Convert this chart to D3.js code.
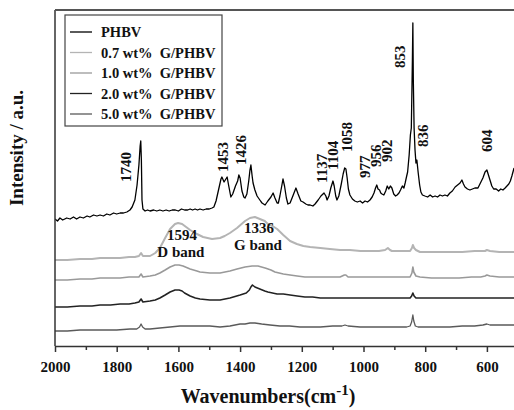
<!DOCTYPE html>
<html>
<head>
<meta charset="utf-8">
<script src="https://cdn.jsdelivr.net/npm/d3@7/dist/d3.min.js"></script>
<style>
  html, body { margin: 0; padding: 0; background: #fff; }
  svg { display: block; }
  text { font-family: "Liberation Serif", serif; font-weight: bold; fill: #111; }
</style>
</head>
<body>
<div id="chart"></div>
<script>
// ---------- data (wavenumber cm-1, intensity a.u.) ----------
const seriesNames = ["PHBV", "0.7 wt%  G/PHBV", "1.0 wt%  G/PHBV", "2.0 wt%  G/PHBV", "5.0 wt%  G/PHBV"];

const phbv = [
  [2000,127],[1992,125],[1984,128],[1975,126],[1962,128],[1951,127],[1940,129],[1930,127],[1919,129],[1908,128],
  [1896,130],[1887,129],[1875,131],[1864,130],[1854,131],[1843,130],[1832,132],[1822,131],[1810,133],[1800,132],
  [1789,133],[1778,133],[1767,134],[1757,136],[1750,139],[1741,146],[1734,161],[1728,181],[1724,200],[1722,205],
  [1720,186],[1718,146],[1715,137],[1708,135],[1700,136],[1692,135],[1680,136],[1670,135],[1660,136],[1650,135],
  [1640,136],[1630,135],[1620,136],[1610,136],[1600,135],[1590,137],[1580,136],[1570,136],[1562,137],[1554,136],
  [1546,137],[1538,136],[1530,137],[1520,136],[1510,137],[1500,137],[1491,138],[1485,139],[1478,145],[1470,156],
  [1462,167],[1459,169],[1452,164],[1446,167],[1442,169],[1438,162],[1430,149],[1424,152],[1415,160],[1408,165],
  [1404,171],[1400,168],[1394,155],[1388,149],[1384,148],[1378,152],[1372,165],[1368,176],[1365,181],[1361,170],
  [1358,163],[1352,156],[1345,150],[1336,146],[1329,143],[1319,141],[1310,145],[1300,149],[1293,153],[1287,148],
  [1280,143],[1276,143],[1271,150],[1265,160],[1261,167],[1256,160],[1250,148],[1245,142],[1238,143],[1229,150],
  [1219,158],[1212,152],[1203,145],[1196,144],[1187,142],[1180,141],[1173,141],[1164,140],[1157,142],[1147,146],
  [1138,150],[1128,153],[1122,150],[1118,146],[1112,150],[1106,158],[1099,165],[1095,160],[1090,150],[1086,146],
  [1080,150],[1072,162],[1066,172],[1061,178],[1057,177],[1053,168],[1049,157],[1044,151],[1036,147],[1028,145],
  [1020,144],[1011,145],[1003,143],[995,145],[987,144],[979,146],[972,149],[966,153],[961,158],[957,161],
  [953,157],[948,156],[944,153],[940,152],[934,151],[928,155],[923,160],[918,157],[913,160],[908,158],
  [902,152],[896,150],[891,151],[885,153],[880,156],[874,160],[869,158],[865,163],[860,170],[857,174],
  [852,191],[848,211],[845,218],[841.5,286],[840,323],[838.5,266],[836,218],[833,196],[830,183],[827,186],
  [823,174],[818,161],[814,154],[809,151],[801,150],[792,149],[784,151],[776,149],[768,150],[760,149],
  [752,151],[744,150],[736,151],[728,150],[720,153],[712,155],[703,159],[695,161],[687,163],[681,166],
  [676,162],[671,159],[663,157],[655,156],[647,157],[639,158],[629,158],[621,163],[613,168],[606,174],
  [600,176],[595,171],[590,166],[584,160],[578,157],[570,157],[562,155],[555,157],[548,156],[541,158],
  [535,160],[529,162],[524,165],[519,170],[512,178]
];

const g07 = [
  [2000,86],[1960,86],[1919,87],[1880,87],[1854,88],[1820,88],[1789,88],[1760,89],[1741,89],[1728,90],
  [1721,93],[1715,90],[1700,90],[1692,90],[1675,93],[1660,98],[1643,108],[1627,117],[1611,122],[1601,123],
  [1588,122],[1575,119],[1562,116],[1540,112],[1520,109],[1491,107],[1465,108],[1450,110],[1433,113],[1410,118],
  [1384,125],[1368,128],[1352,129],[1336,127],[1320,125],[1310,122],[1295,120],[1280,117],[1260,111],[1238,105],
  [1216,102],[1195,100],[1173,99],[1140,98],[1109,97],[1076,96],[1044,96],[1010,95],[979,95],[950,95],
  [930,96],[921,98],[914,96],[908,95],[880,95],[849,95],[843,98],[840,101],[836,98],[830,96],
  [817,94],[780,94],[750,94],[720,94],[680,94],[640,95],[606,95],[600,96],[590,95],[560,94],[512,94]
];

const g10 = [
  [2000,66],[1960,66],[1919,67],[1880,67],[1854,68],[1820,68],[1789,68],[1760,69],[1741,69],[1728,69],
  [1721,72],[1715,69],[1692,70],[1675,71],[1660,73],[1643,76],[1627,79],[1611,81],[1598,81],[1585,80],
  [1562,77],[1540,75],[1530,74],[1498,73],[1465,73],[1433,75],[1410,77],[1384,79],[1361,80],[1342,80],
  [1319,78],[1300,76],[1287,74],[1260,72],[1238,71],[1215,70],[1190,69],[1165,69],[1140,69],[1100,69],
  [1076,69],[1062,71],[1057,71],[1050,69],[1020,69],[979,69],[950,69],[930,69],[900,69],[880,69],
  [849,69],[843,73],[840,79],[837,74],[830,70],[817,69],[780,68],[750,68],[720,68],[690,68],
  [650,69],[620,69],[606,70],[600,71],[590,70],[560,69],[530,69],[512,69]
];

const g20 = [
  [2000,39],[1960,39],[1919,40],[1880,40],[1854,41],[1820,41],[1789,42],[1760,42],[1741,43],[1728,44],
  [1721,47],[1715,44],[1692,45],[1675,46],[1660,48],[1643,51],[1627,54],[1611,56],[1598,56],[1588,55],
  [1580,53],[1562,50],[1545,48],[1530,47],[1498,46],[1465,46],[1433,48],[1400,51],[1380,53],[1370,56],
  [1365,59],[1360,61],[1352,59],[1336,57],[1320,55],[1310,54],[1295,53],[1280,52],[1260,52],[1238,51],
  [1215,50],[1190,49],[1165,49],[1140,48],[1110,48],[1076,48],[1040,48],[1000,48],[965,48],[930,48],
  [900,48],[870,48],[849,48],[844,50],[840,53],[836,50],[830,48],[800,48],[780,48],[750,48],
  [720,48],[680,48],[640,48],[600,48],[560,48],[530,48],[512,48]
];

const g50 = [
  [2000,15],[1960,15],[1919,16],[1880,16],[1840,16],[1800,16],[1757,17],[1735,17],[1726,19],[1721,22],
  [1716,19],[1708,17],[1692,17],[1660,18],[1627,19],[1595,20],[1562,20],[1530,20],[1498,20],[1465,19],
  [1433,20],[1400,22],[1384,22],[1368,23],[1352,23],[1330,22],[1303,21],[1271,20],[1240,20],[1206,19],
  [1170,19],[1140,19],[1100,20],[1070,20],[1060,21],[1050,20],[1011,19],[980,19],[950,19],[910,19],
  [882,19],[860,19],[849,20],[844,24],[840,31],[837,25],[832,20],[823,19],[800,19],[760,19],
  [720,19],[680,20],[640,20],[613,21],[600,22],[590,21],[560,21],[530,21],[512,21]
];

const seriesData = [phbv, g07, g10, g20, g50];
const seriesColors = ["#000000", "#b4b4b4", "#999999", "#222222", "#5a5a5a"];
const seriesWidths = [1.3, 2.0, 1.6, 1.6, 1.3];

// axis ticks
const majorTicks = [2000, 1800, 1600, 1400, 1200, 1000, 800, 600];
const minorTicks = [1900, 1700, 1500, 1300, 1100, 900, 700, 500];

// annotations: peak labels (rotated), anchored at wavenumber / intensity
const peakLabelText = ["1740", "1453", "1426", "1137", "1104", "1058", "977", "956", "902", "853", "836", "604"];
const peakLabelWn   = [1770, 1455, 1397, 1134, 1099, 1053, 995, 960, 924, 882, 807, 600];
const peakLabelI    = [164, 174, 181, 163, 176, 194, 168, 179, 184, 278, 199, 194];

// band labels (horizontal)
const bandLabelText = ["1594", "D band", "1336", "G band"];
const bandLabelWn   = [1588, 1592, 1339, 1342];
const bandLabelI    = [106, 89, 113, 96];

// ---------- drawing ----------
const W = 514, H = 410;
const margin = { left: 55, top: 10, bottom: 64 };
const FONT = "'Liberation Serif', serif";
const svg = d3.select("#chart").append("svg").attr("width", W).attr("height", H);

const x = d3.scaleLinear().domain([2000, 500]).range([margin.left, margin.left + 462.75]);
const y = d3.scaleLinear().domain([0, 336]).range([H - margin.bottom, margin.top]);

// spectra
const line = d3.line().x(d => x(d[0])).y(d => y(d[1]));
svg.append("clipPath").attr("id", "plotclip").append("rect")
  .attr("x", margin.left).attr("y", margin.top).attr("width", W - margin.left).attr("height", (H - margin.bottom) - margin.top);
const g = svg.append("g").attr("clip-path", "url(#plotclip)");
seriesData.forEach((s, i) => {
  g.append("path").datum(s)
    .attr("d", line)
    .attr("fill", "none")
    .attr("stroke", seriesColors[i])
    .attr("stroke-width", seriesWidths[i])
    .attr("stroke-linejoin", "round");
});

// frame: left, top
svg.append("line").attr("x1", margin.left).attr("x2", margin.left)
  .attr("y1", margin.top).attr("y2", H - margin.bottom).attr("stroke", "#333").attr("stroke-width", 1.5);
svg.append("line").attr("x1", margin.left).attr("x2", W)
  .attr("y1", margin.top).attr("y2", margin.top).attr("stroke", "#555").attr("stroke-width", 2);

// x axis
const axisMajor = d3.axisBottom(x).tickValues(majorTicks).tickSize(6).tickPadding(9).tickFormat(d3.format("d"));
const axG = svg.append("g").attr("transform", `translate(0,${H - margin.bottom})`).call(axisMajor);
axG.attr("font-family", FONT);
axG.select(".domain").attr("stroke", "#333").attr("stroke-width", 1.5).attr("d", `M${margin.left},0.5H${W + 5}`);
axG.selectAll(".tick line").attr("stroke", "#333").attr("stroke-width", 1.5);
axG.selectAll(".tick text").style("font-size", "15px").style("font-family", FONT).style("font-weight", "bold").attr("fill", "#111");

const axisMinor = d3.axisBottom(x).tickValues(minorTicks).tickSize(4).tickFormat("");
const axMin = svg.append("g").attr("transform", `translate(0,${H - margin.bottom})`).call(axisMinor);
axMin.select(".domain").remove();
axMin.selectAll(".tick line").attr("stroke", "#333").attr("stroke-width", 1.5);

// axis titles
const xt = svg.append("text").attr("x", 268).attr("y", 403).attr("text-anchor", "middle")
  .style("font-family", FONT).style("font-size", "20px");
xt.append("tspan").text("Wavenumbers(cm");
xt.append("tspan").text("-1").attr("dy", -8).style("font-size", "15px");
xt.append("tspan").text(")").attr("dy", 8);

svg.append("text").attr("transform", "translate(23,148) rotate(-90)")
  .attr("text-anchor", "middle").style("font-family", FONT).style("font-size", "19px").text("Intensity / a.u.");

// peak labels
peakLabelText.forEach((t, i) => {
  svg.append("text")
    .attr("transform", `translate(${x(peakLabelWn[i])},${y(peakLabelI[i])}) rotate(-90)`)
    .attr("dominant-baseline", "central")
    .attr("text-anchor", "start")
    .style("font-family", FONT)
    .style("font-size", "15px")
    .text(t);
});

// band labels
bandLabelText.forEach((t, i) => {
  svg.append("text")
    .attr("x", x(bandLabelWn[i])).attr("y", y(bandLabelI[i]))
    .attr("text-anchor", "middle")
    .style("font-family", FONT)
    .style("font-size", "15px")
    .text(t);
});

// legend
const lg = svg.append("g");
lg.append("rect").attr("x", 65).attr("y", 15).attr("width", 157).attr("height", 111)
  .attr("fill", "#fff").attr("stroke", "#444").attr("stroke-width", 1.2);
seriesNames.forEach((n, i) => {
  const yy = 32 + i * 20.5;
  lg.append("line").attr("x1", 70).attr("x2", 92).attr("y1", yy).attr("y2", yy)
    .attr("stroke", seriesColors[i]).attr("stroke-width", 1.3);
  lg.append("text").attr("x", 101).attr("y", yy).attr("dominant-baseline", "central")
    .style("font-family", FONT)
    .style("font-size", "14.5px").style("white-space", "pre").text(n);
});
</script>
</body>
</html>
